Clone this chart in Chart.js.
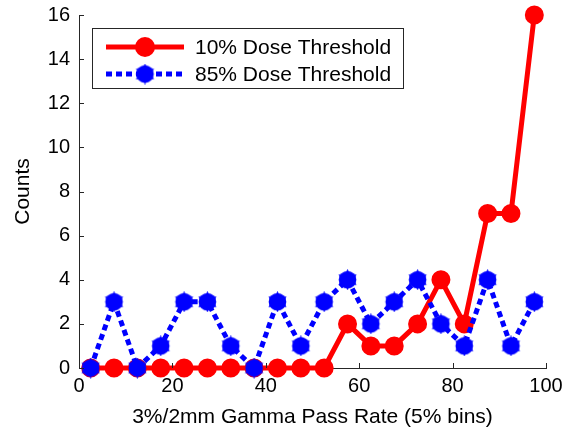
<!DOCTYPE html>
<html>
<head>
<meta charset="utf-8">
<script src="https://cdn.jsdelivr.net/npm/chart.js@4"></script>
<style>
  body { margin: 0; background: #fff; }
  canvas { display: block; }
</style>
</head>
<body>
<canvas id="grafico" width="566" height="434"></canvas>
<script>
// centros dos bins (5%)
var binCenters = [2.5, 7.5, 12.5, 17.5, 22.5, 27.5, 32.5, 37.5, 42.5, 47.5,
                  52.5, 57.5, 62.5, 67.5, 72.5, 77.5, 82.5, 87.5, 92.5, 97.5];
var counts10 = [0, 0, 0, 0, 0, 0, 0, 0, 0, 0, 0, 2, 1, 1, 2, 4, 2, 7, 7, 16];
var counts85 = [0, 3, 0, 1, 3, 3, 1, 0, 3, 1, 3, 4, 2, 3, 4, 2, 1, 4, 1, 3];
var seriesNames = ['10% Dose Threshold', '85% Dose Threshold'];
var xTicks = [0, 20, 40, 60, 80, 100];
var yTicks = [0, 2, 4, 6, 8, 10, 12, 14, 16];

var FONT = 'Liberation Sans, Arial, sans-serif';
var AXIS = '#262626';

function toPoints(vals) {
    return vals.map(function (v, i) { return { x: binCenters[i], y: v }; });
}

// marcador hexagrama azul
function hexagram(size, color) {
    var c = document.createElement('canvas');
    c.width = size; c.height = size;
    var g = c.getContext('2d');
    var r = size / 2, cx = r, cy = r;
    g.fillStyle = color;
    for (var t = 0; t < 2; t++) {
        g.beginPath();
        for (var k = 0; k < 3; k++) {
            var a = -Math.PI / 2 + t * Math.PI + k * 2 * Math.PI / 3;
            var px = cx + r * Math.cos(a), py = cy + r * Math.sin(a);
            if (k === 0) g.moveTo(px, py); else g.lineTo(px, py);
        }
        g.closePath();
        g.fill();
    }
    g.beginPath();
    g.arc(cx, cy, r * 0.84, 0, Math.PI * 2);
    g.fill();
    return c;
}
var blueMarker = hexagram(21, '#0000ff');

// ticks para dentro + legenda
var extras = {
    id: 'extras',
    afterDraw: function (chart) {
        var ctx = chart.ctx, xs = chart.scales.x, ys = chart.scales.y;
        var a = chart.chartArea;
        ctx.save();
        ctx.strokeStyle = AXIS;
        ctx.lineWidth = 1;
        yTicks.forEach(function (v) {
            var y = Math.round(ys.getPixelForValue(v)) + 0.5;
            ctx.beginPath(); ctx.moveTo(a.left, y); ctx.lineTo(a.left + 5, y); ctx.stroke();
        });
        xTicks.forEach(function (v) {
            var x = Math.round(xs.getPixelForValue(v)) + 0.5;
            ctx.beginPath(); ctx.moveTo(x, a.bottom); ctx.lineTo(x, a.bottom - 5); ctx.stroke();
        });

        // legenda
        var bx = 92, by = 28, bw = 311, bh = 60;
        ctx.fillStyle = '#fff';
        ctx.fillRect(bx, by, bw, bh);
        ctx.strokeRect(bx + 0.5, by + 0.5, bw, bh);
        var rows = [47, 74];
        ctx.lineWidth = 5;
        ctx.strokeStyle = '#ff0000';
        ctx.beginPath(); ctx.moveTo(106, rows[0]); ctx.lineTo(184, rows[0]); ctx.stroke();
        ctx.fillStyle = '#ff0000';
        ctx.beginPath(); ctx.arc(145, rows[0], 10, 0, Math.PI * 2); ctx.fill();
        ctx.strokeStyle = '#0000ff';
        ctx.setLineDash([6, 4]);
        ctx.beginPath(); ctx.moveTo(106, rows[1]); ctx.lineTo(184, rows[1]); ctx.stroke();
        ctx.setLineDash([]);
        ctx.drawImage(blueMarker, 145 - 10.5, rows[1] - 10.5);
        ctx.fillStyle = '#000';
        ctx.font = '21px ' + FONT;
        ctx.textBaseline = 'middle';
        ctx.fillText(seriesNames[0], 195, rows[0] + 1);
        ctx.fillText(seriesNames[1], 195, rows[1] + 1);
        ctx.restore();
    }
};

var dados = {
    datasets: [{
        label: seriesNames[0],
        data: toPoints(counts10),
        borderColor: '#ff0000',
        backgroundColor: '#ff0000',
        borderWidth: 5,
        pointRadius: 8,
        pointBorderWidth: 3,
        pointStyle: 'circle',
        clip: false,
        order: 1
    },
    {
        label: seriesNames[1],
        data: toPoints(counts85),
        borderColor: '#0000ff',
        backgroundColor: '#0000ff',
        borderWidth: 5,
        borderDash: [6, 4],
        pointStyle: blueMarker,
        pointRadius: 10,
        clip: false,
        order: 0
    }]
};

var options = {
    responsive: false,
    animation: false,
    layout: { padding: { top: 14, right: 20, left: 0, bottom: 0 } },
    plugins: { legend: { display: false }, tooltip: { enabled: false } },
    scales: {
        x: {
            type: 'linear', min: 0, max: 100,
            afterBuildTicks: function (s) { s.ticks = xTicks.map(function (v) { return { value: v }; }); },
            afterFit: function (s) { s.height = 66; s.paddingLeft = 0; s.paddingRight = 0; },
            grid: { display: false, drawTicks: false },
            border: { color: AXIS, width: 1 },
            ticks: { color: '#000', font: { family: FONT, size: 20 }, padding: 6, maxRotation: 0 },
            title: { display: true, text: '3%/2mm Gamma Pass Rate (5% bins)', color: '#000',
                     font: { family: FONT, size: 21 }, padding: { top: 2 } }
        },
        y: {
            min: 0, max: 16,
            afterBuildTicks: function (s) { s.ticks = yTicks.map(function (v) { return { value: v }; }); },
            afterFit: function (s) { s.width = 79; s.paddingTop = 0; s.paddingBottom = 0; },
            grid: { display: false, drawTicks: false },
            border: { color: AXIS, width: 1 },
            ticks: { color: '#000', font: { family: FONT, size: 20 }, padding: 9 },
            title: { display: true, text: 'Counts', color: '#000',
                     font: { family: FONT, size: 21 }, padding: { top: 11, bottom: 0 } }
        }
    }
};

var ctx = document.querySelector('#grafico').getContext('2d');
var lineChart = new Chart(ctx, {
    type: 'line',
    data: dados,
    options: options,
    plugins: [extras]
});
</script>
</body>
</html>
